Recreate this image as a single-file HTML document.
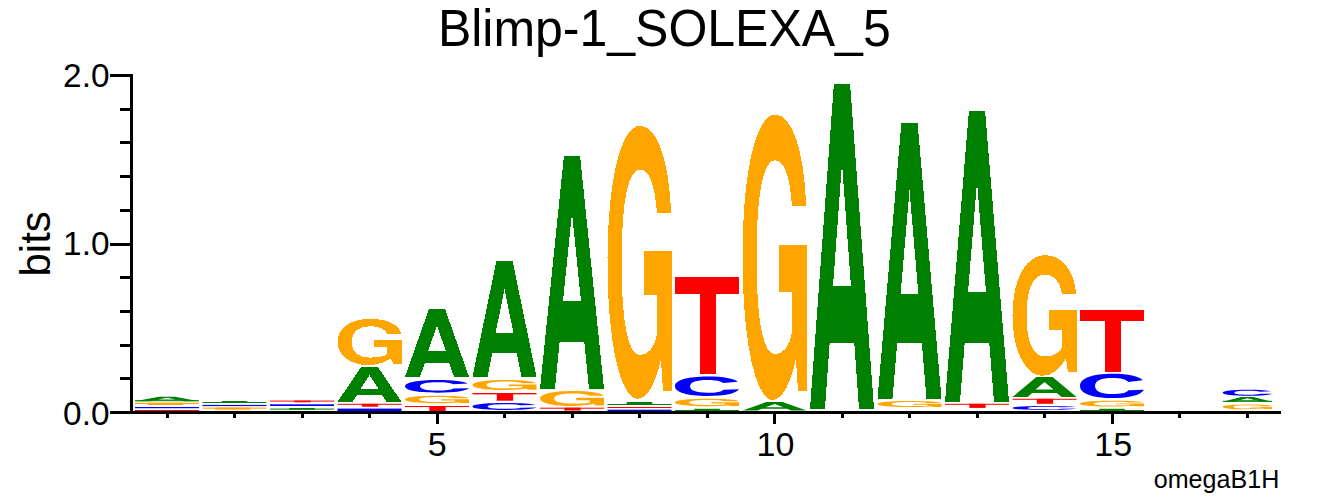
<!DOCTYPE html>
<html><head><meta charset="utf-8"><title>Blimp-1_SOLEXA_5</title>
<style>
html,body{margin:0;padding:0;background:#fff;}
body{width:1329px;height:496px;overflow:hidden;position:relative;font-family:"Liberation Sans",sans-serif;color:#000;}
svg{position:absolute;left:0;top:0;}
text{font-family:"Liberation Sans",sans-serif;}
</style></head><body>
<svg width="1329" height="496" viewBox="0 0 1329 496">
<g shape-rendering="crispEdges">
<path fill-rule="evenodd" fill="#ffa500" transform="matrix(0.06400 0 0 0.04620 337.50 318.80)" d="M995 319C960 120 770 0 510 0C210 0 0 200 0 500C0 790 200 1000 470 1000C620 1000 750 945 835 855L868 970L1000 970L1000 458L567 458L567 620L778 620L778 760C740 810 640 840 510 840C320 840 220 720 220 500C220 280 320 160 510 160C650 160 740 215 773 319Z"/>
<path fill-rule="evenodd" fill="#008000" transform="matrix(0.06400 0 0 0.03510 337.50 366.70)" d="M374 0L626 0L1000 1000L766 1000L692 797L308 797L234 1000L0 1000ZM500 244L640 622L360 622Z"/>
<path fill-rule="evenodd" fill="#008000" transform="matrix(0.06400 0 0 0.06790 405.00 309.00)" d="M374 0L626 0L1000 1000L766 1000L692 797L308 797L234 1000L0 1000ZM500 244L640 622L360 622Z"/>
<path fill-rule="evenodd" fill="#008000" transform="matrix(0.06400 0 0 0.11600 472.50 260.90)" d="M374 0L626 0L1000 1000L766 1000L692 797L308 797L234 1000L0 1000ZM500 244L640 622L360 622Z"/>
<path fill-rule="evenodd" fill="#008000" transform="matrix(0.06400 0 0 0.23280 540.00 156.00)" d="M374 0L626 0L1000 1000L766 1000L692 797L308 797L234 1000L0 1000ZM500 244L640 622L360 622Z"/>
<path fill-rule="evenodd" fill="#ffa500" transform="matrix(0.06400 0 0 0.27300 607.50 125.80)" d="M995 319C960 120 770 0 510 0C210 0 0 200 0 500C0 790 200 1000 470 1000C620 1000 750 945 835 855L868 970L1000 970L1000 458L567 458L567 620L778 620L778 760C740 810 640 840 510 840C320 840 220 720 220 500C220 280 320 160 510 160C650 160 740 215 773 319Z"/>
<path fill-rule="evenodd" fill="#ff0000" transform="matrix(0.06400 0 0 0.09700 675.00 276.90)" d="M0 0H1000V176H636V1000H388V176H0Z"/>
<path fill-rule="evenodd" fill="#ffa500" transform="matrix(0.06400 0 0 0.28540 742.50 114.60)" d="M995 319C960 120 770 0 510 0C210 0 0 200 0 500C0 790 200 1000 470 1000C620 1000 750 945 835 855L868 970L1000 970L1000 458L567 458L567 620L778 620L778 760C740 810 640 840 510 840C320 840 220 720 220 500C220 280 320 160 510 160C650 160 740 215 773 319Z"/>
<path fill-rule="evenodd" fill="#008000" transform="matrix(0.06400 0 0 0.32530 810.00 83.50)" d="M374 0L626 0L1000 1000L766 1000L692 797L308 797L234 1000L0 1000ZM500 244L640 622L360 622Z"/>
<path fill-rule="evenodd" fill="#008000" transform="matrix(0.06400 0 0 0.27600 877.50 122.80)" d="M374 0L626 0L1000 1000L766 1000L692 797L308 797L234 1000L0 1000ZM500 244L640 622L360 622Z"/>
<path fill-rule="evenodd" fill="#008000" transform="matrix(0.06400 0 0 0.29090 945.00 110.90)" d="M374 0L626 0L1000 1000L766 1000L692 797L308 797L234 1000L0 1000ZM500 244L640 622L360 622Z"/>
<path fill-rule="evenodd" fill="#ffa500" transform="matrix(0.06400 0 0 0.12060 1012.50 255.20)" d="M995 319C960 120 770 0 510 0C210 0 0 200 0 500C0 790 200 1000 470 1000C620 1000 750 945 835 855L868 970L1000 970L1000 458L567 458L567 620L778 620L778 760C740 810 640 840 510 840C320 840 220 720 220 500C220 280 320 160 510 160C650 160 740 215 773 319Z"/>
<path fill-rule="evenodd" fill="#ff0000" transform="matrix(0.06400 0 0 0.06160 1080.00 310.40)" d="M0 0H1000V176H636V1000H388V176H0Z"/>
</g>
<g>
<rect fill="#008000" x="135.00" y="400.20" width="64.00" height="1"/>
<path fill-rule="evenodd" fill="#008000" transform="matrix(0.06400 0 0 0.00440 135.00 396.80)" d="M374 0L626 0L1000 1000L766 1000L692 797L308 797L234 1000L0 1000ZM500 244L640 622L360 622Z"/>
<rect fill="#ffa500" x="135.00" y="402.80" width="64.00" height="1.20"/>
<rect fill="#ffa500" x="147.80" y="402.80" width="35.20" height="2.20"/>
<rect fill="#0000ff" x="135.00" y="407.00" width="64.00" height="1.20"/>
<rect fill="#ff0000" x="135.00" y="410.00" width="64.00" height="1.00"/>
<rect fill="#ff0000" x="159.32" y="410.00" width="16.32" height="2.50"/>
<rect fill="#008000" x="202.50" y="402.00" width="64.00" height="1"/>
<rect fill="#008000" x="221.70" y="401.00" width="25.60" height="2.00"/>
<rect fill="#0000ff" x="202.50" y="404.90" width="64.00" height="1.20"/>
<rect fill="#ffa500" x="202.50" y="407.60" width="64.00" height="1.10"/>
<rect fill="#ffa500" x="215.30" y="407.60" width="35.20" height="2.10"/>
<rect fill="#ff0000" x="270.00" y="400.60" width="64.00" height="1.00"/>
<rect fill="#ff0000" x="294.32" y="400.60" width="16.32" height="1.70"/>
<rect fill="#0000ff" x="270.00" y="404.30" width="64.00" height="1.70"/>
<rect fill="#008000" x="270.00" y="408.60" width="64.00" height="1"/>
<rect fill="#008000" x="289.20" y="408.00" width="25.60" height="1.60"/>
<rect fill="#ff0000" x="337.50" y="403.80" width="64.00" height="1.00"/>
<rect fill="#ff0000" x="361.82" y="403.80" width="16.32" height="2.90"/>
<rect fill="#0000ff" x="337.50" y="408.60" width="64.00" height="2.90"/>
<path fill-rule="evenodd" fill="#0000ff" transform="matrix(0.06400 0 0 0.01270 405.00 380.00)" d="M980 270C920 100 760 0 510 0C190 0 0 190 0 500C0 810 190 1000 510 1000C790 1000 950 870 1000 656L757 675C720 790 640 833 510 833C330 833 235 720 235 500C235 280 330 170 510 170C640 170 715 225 755 335Z"/>
<path fill-rule="evenodd" fill="#ffa500" transform="matrix(0.06400 0 0 0.00740 405.00 395.80)" d="M995 319C960 120 770 0 510 0C210 0 0 200 0 500C0 790 200 1000 470 1000C620 1000 750 945 835 855L868 970L1000 970L1000 458L567 458L567 620L778 620L778 760C740 810 640 840 510 840C320 840 220 720 220 500C220 280 320 160 510 160C650 160 740 215 773 319Z"/>
<rect fill="#ff0000" x="405.00" y="406.00" width="64.00" height="1.06"/>
<rect fill="#ff0000" x="429.32" y="406.00" width="16.32" height="6.00"/>
<path fill-rule="evenodd" fill="#ffa500" transform="matrix(0.06400 0 0 0.01000 472.50 380.00)" d="M995 319C960 120 770 0 510 0C210 0 0 200 0 500C0 790 200 1000 470 1000C620 1000 750 945 835 855L868 970L1000 970L1000 458L567 458L567 620L778 620L778 760C740 810 640 840 510 840C320 840 220 720 220 500C220 280 320 160 510 160C650 160 740 215 773 319Z"/>
<rect fill="#ff0000" x="472.50" y="393.00" width="64.00" height="1.36"/>
<rect fill="#ff0000" x="496.82" y="393.00" width="16.32" height="7.70"/>
<path fill-rule="evenodd" fill="#0000ff" transform="matrix(0.06400 0 0 0.00700 472.50 403.00)" d="M980 270C920 100 760 0 510 0C190 0 0 190 0 500C0 810 190 1000 510 1000C790 1000 950 870 1000 656L757 675C720 790 640 833 510 833C330 833 235 720 235 500C235 280 330 170 510 170C640 170 715 225 755 335Z"/>
<path fill-rule="evenodd" fill="#ffa500" transform="matrix(0.06400 0 0 0.01500 540.00 391.00)" d="M995 319C960 120 770 0 510 0C210 0 0 200 0 500C0 790 200 1000 470 1000C620 1000 750 945 835 855L868 970L1000 970L1000 458L567 458L567 620L778 620L778 760C740 810 640 840 510 840C320 840 220 720 220 500C220 280 320 160 510 160C650 160 740 215 773 319Z"/>
<rect fill="#ff0000" x="540.00" y="407.70" width="64.00" height="1.00"/>
<rect fill="#ff0000" x="564.32" y="407.70" width="16.32" height="2.80"/>
<rect fill="#008000" x="607.50" y="404.00" width="64.00" height="1"/>
<rect fill="#008000" x="626.70" y="402.00" width="25.60" height="3.00"/>
<rect fill="#ff0000" x="607.50" y="407.00" width="64.00" height="1.00"/>
<rect fill="#ff0000" x="631.82" y="407.00" width="16.32" height="1.00"/>
<rect fill="#0000ff" x="607.50" y="409.70" width="64.00" height="2.30"/>
<path fill-rule="evenodd" fill="#0000ff" transform="matrix(0.06400 0 0 0.01940 675.00 376.60)" d="M980 270C920 100 760 0 510 0C190 0 0 190 0 500C0 810 190 1000 510 1000C790 1000 950 870 1000 656L757 675C720 790 640 833 510 833C330 833 235 720 235 500C235 280 330 170 510 170C640 170 715 225 755 335Z"/>
<path fill-rule="evenodd" fill="#ffa500" transform="matrix(0.06400 0 0 0.00740 675.00 398.80)" d="M995 319C960 120 770 0 510 0C210 0 0 200 0 500C0 790 200 1000 470 1000C620 1000 750 945 835 855L868 970L1000 970L1000 458L567 458L567 620L778 620L778 760C740 810 640 840 510 840C320 840 220 720 220 500C220 280 320 160 510 160C650 160 740 215 773 319Z"/>
<rect fill="#008000" x="675.00" y="410.00" width="64.00" height="1"/>
<rect fill="#008000" x="694.20" y="408.80" width="25.60" height="2.20"/>
<path fill-rule="evenodd" fill="#008000" transform="matrix(0.06400 0 0 0.00860 742.50 402.00)" d="M374 0L626 0L1000 1000L766 1000L692 797L308 797L234 1000L0 1000ZM500 244L640 622L360 622Z"/>
<path fill-rule="evenodd" fill="#ffa500" transform="matrix(0.06400 0 0 0.00610 877.50 401.00)" d="M995 319C960 120 770 0 510 0C210 0 0 200 0 500C0 790 200 1000 470 1000C620 1000 750 945 835 855L868 970L1000 970L1000 458L567 458L567 620L778 620L778 760C740 810 640 840 510 840C320 840 220 720 220 500C220 280 320 160 510 160C650 160 740 215 773 319Z"/>
<rect fill="#ff0000" x="945.00" y="403.80" width="64.00" height="1.00"/>
<rect fill="#ff0000" x="969.32" y="403.80" width="16.32" height="4.10"/>
<path fill-rule="evenodd" fill="#008000" transform="matrix(0.06400 0 0 0.02000 1012.50 377.00)" d="M374 0L626 0L1000 1000L766 1000L692 797L308 797L234 1000L0 1000ZM500 244L640 622L360 622Z"/>
<rect fill="#ff0000" x="1012.50" y="398.80" width="64.00" height="1.00"/>
<rect fill="#ff0000" x="1036.82" y="398.80" width="16.32" height="5.00"/>
<path fill-rule="evenodd" fill="#0000ff" transform="matrix(0.06400 0 0 0.00400 1012.50 406.00)" d="M980 270C920 100 760 0 510 0C190 0 0 190 0 500C0 810 190 1000 510 1000C790 1000 950 870 1000 656L757 675C720 790 640 833 510 833C330 833 235 720 235 500C235 280 330 170 510 170C640 170 715 225 755 335Z"/>
<path fill-rule="evenodd" fill="#0000ff" transform="matrix(0.06400 0 0 0.02420 1080.00 373.80)" d="M980 270C920 100 760 0 510 0C190 0 0 190 0 500C0 810 190 1000 510 1000C790 1000 950 870 1000 656L757 675C720 790 640 833 510 833C330 833 235 720 235 500C235 280 330 170 510 170C640 170 715 225 755 335Z"/>
<path fill-rule="evenodd" fill="#ffa500" transform="matrix(0.06400 0 0 0.00570 1080.00 400.80)" d="M995 319C960 120 770 0 510 0C210 0 0 200 0 500C0 790 200 1000 470 1000C620 1000 750 945 835 855L868 970L1000 970L1000 458L567 458L567 620L778 620L778 760C740 810 640 840 510 840C320 840 220 720 220 500C220 280 320 160 510 160C650 160 740 215 773 319Z"/>
<rect fill="#008000" x="1080.00" y="410.00" width="64.00" height="1"/>
<rect fill="#008000" x="1099.20" y="408.80" width="25.60" height="2.20"/>
<path fill-rule="evenodd" fill="#0000ff" transform="matrix(0.04930 0 0 0.00600 1222.70 389.70)" d="M980 270C920 100 760 0 510 0C190 0 0 190 0 500C0 810 190 1000 510 1000C790 1000 950 870 1000 656L757 675C720 790 640 833 510 833C330 833 235 720 235 500C235 280 330 170 510 170C640 170 715 225 755 335Z"/>
<rect fill="#008000" x="1222.70" y="400.80" width="49.30" height="1"/>
<path fill-rule="evenodd" fill="#008000" transform="matrix(0.04930 0 0 0.00480 1222.70 397.00)" d="M374 0L626 0L1000 1000L766 1000L692 797L308 797L234 1000L0 1000ZM500 244L640 622L360 622Z"/>
<path fill-rule="evenodd" fill="#ffa500" transform="matrix(0.04930 0 0 0.00460 1222.70 404.60)" d="M995 319C960 120 770 0 510 0C210 0 0 200 0 500C0 790 200 1000 470 1000C620 1000 750 945 835 855L868 970L1000 970L1000 458L567 458L567 620L778 620L778 760C740 810 640 840 510 840C320 840 220 720 220 500C220 280 320 160 510 160C650 160 740 215 773 319Z"/>
</g>
<g fill="#000" shape-rendering="crispEdges">
<rect x="130" y="74" width="3" height="340"/>
<rect x="110" y="411" width="1171" height="3"/>
<rect x="110" y="411.0" width="21" height="3"/>
<rect x="120" y="377.3" width="11" height="3"/>
<rect x="120" y="343.6" width="11" height="3"/>
<rect x="120" y="309.9" width="11" height="3"/>
<rect x="120" y="276.2" width="11" height="3"/>
<rect x="110" y="242.5" width="21" height="3"/>
<rect x="120" y="208.8" width="11" height="3"/>
<rect x="120" y="175.1" width="11" height="3"/>
<rect x="120" y="141.4" width="11" height="3"/>
<rect x="120" y="107.7" width="11" height="3"/>
<rect x="110" y="74.0" width="21" height="3"/>
<rect x="165.8" y="413" width="3" height="4.5"/>
<rect x="233.3" y="413" width="3" height="4.5"/>
<rect x="300.8" y="413" width="3" height="4.5"/>
<rect x="368.3" y="413" width="3" height="4.5"/>
<rect x="435.8" y="413" width="3" height="10.5"/>
<rect x="503.3" y="413" width="3" height="4.5"/>
<rect x="570.8" y="413" width="3" height="4.5"/>
<rect x="638.3" y="413" width="3" height="4.5"/>
<rect x="705.8" y="413" width="3" height="4.5"/>
<rect x="773.3" y="413" width="3" height="10.5"/>
<rect x="840.8" y="413" width="3" height="4.5"/>
<rect x="908.3" y="413" width="3" height="4.5"/>
<rect x="975.8" y="413" width="3" height="4.5"/>
<rect x="1043.3" y="413" width="3" height="4.5"/>
<rect x="1110.8" y="413" width="3" height="10.5"/>
<rect x="1178.3" y="413" width="3" height="4.5"/>
<rect x="1245.8" y="413" width="3" height="4.5"/>
</g>
<g fill="#000">
<text id="title" transform="translate(664.3,45.9) scale(1,1.052)" font-size="50" text-anchor="middle">Blimp-1_SOLEXA_5</text>
<text id="y2" transform="translate(109.5,86.9)" font-size="33.4" text-anchor="end">2.0</text>
<text id="y1" transform="translate(109.5,255.3)" font-size="33.4" text-anchor="end">1.0</text>
<text id="y0" transform="translate(109.5,424.8)" font-size="33.4" text-anchor="end">0.0</text>
<text id="x5" transform="translate(437.3,455.8)" font-size="34" text-anchor="middle">5</text>
<text id="x10" transform="translate(775.5,455.8)" font-size="34" text-anchor="middle">10</text>
<text id="x15" transform="translate(1113.2,455.8)" font-size="34" text-anchor="middle">15</text>
<text id="bits" transform="translate(50,276.5) rotate(-90)" font-size="42">bits</text>
<text id="foot" transform="translate(1279.3,487.6)" font-size="25.1" text-anchor="end">omegaB1H</text>
</g>
</svg>
</body></html>
